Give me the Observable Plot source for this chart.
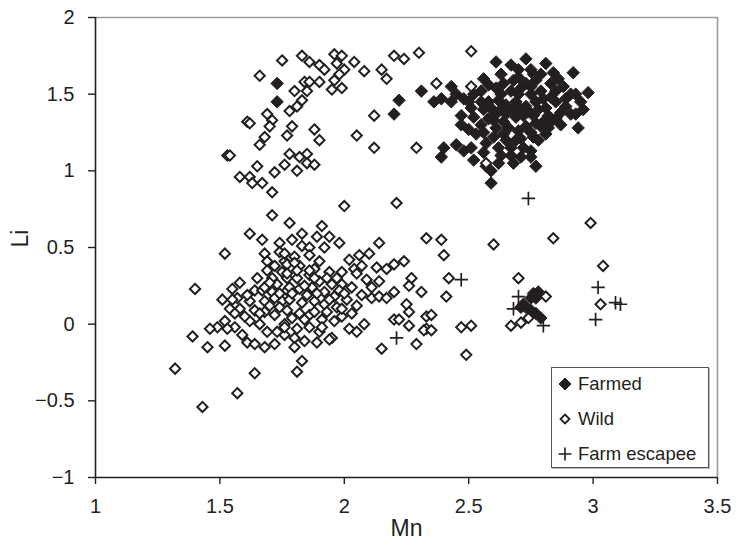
<!DOCTYPE html>
<html><head><meta charset="utf-8">
<script src="https://cdn.jsdelivr.net/npm/d3@7"></script>
<script src="https://cdn.jsdelivr.net/npm/@observablehq/plot@0.6"></script>
<style>
body{margin:0;background:#fff;}
#wrap{position:relative;width:739px;height:550px;font-family:"Liberation Sans",Arial,Helvetica,sans-serif;}
#legend{position:absolute;left:551px;top:367px;width:156px;height:99px;border:1px solid #555;box-shadow:1px 1px 0 #bbb;background:#fff;}
.item{position:absolute;left:6px;height:22px;display:flex;align-items:center;font-size:18.5px;color:#231f20;white-space:nowrap;}
.item svg{margin-right:6px;}
</style></head>
<body><div id="wrap"><div id="legend"></div></div>
<script>
// Tick values
const xTicks = [1, 1.5, 2, 2.5, 3, 3.5];
const yTicks = [-1, -0.5, 0, 0.5, 1, 1.5, 2];

// [Mn, Li] pairs
const farmed = [
[1.73,1.57],[1.73,1.45],[2.22,1.46],[2.20,1.37],[2.31,1.52],
[2.61,1.71],[2.67,1.69],[2.73,1.73],[2.81,1.70],[2.84,1.64],[2.92,1.64],[2.75,1.66],[2.56,1.60],[2.63,1.63],[2.43,1.55],[2.45,1.50],[2.36,1.45],[2.39,1.47],[2.48,1.47],[2.52,1.50],[2.55,1.52],[2.51,1.41],[2.47,1.36],[2.47,1.30],[2.50,1.27],[2.53,1.24],[2.55,1.30],[2.58,1.34],[2.59,1.41],[2.62,1.46],[2.60,1.22],[2.62,1.15],[2.63,1.10],[2.67,1.10],[2.40,1.15],[2.39,1.09],[2.45,1.17],[2.48,1.13],[2.51,1.15],[2.52,1.07],[2.57,1.03],[2.59,1.00],[2.59,0.92],[2.75,1.13],[2.75,1.09],[2.76,1.22],[2.81,1.24],[2.79,1.29],[2.83,1.32],[2.85,1.34],[2.87,1.38],[2.85,1.45],[2.89,1.42],[2.91,1.50],[2.93,1.50],[2.98,1.51],[2.95,1.45],[2.96,1.40],[2.94,1.28],[2.93,1.37],[2.91,1.37],[2.81,1.41],
[2.68,1.59],[2.70,1.61],[2.73,1.57],[2.77,1.59],[2.67,1.52],[2.70,1.50],[2.75,1.50],[2.79,1.52],[2.65,1.43],[2.69,1.45],[2.73,1.42],[2.77,1.45],[2.80,1.47],[2.65,1.37],[2.69,1.35],[2.72,1.36],[2.76,1.36],[2.66,1.28],[2.70,1.26],[2.73,1.29],[2.65,1.20],[2.69,1.20],[2.72,1.15],[2.67,1.15],[2.61,1.54],[2.63,1.50],[2.79,1.63],[2.83,1.57],[2.85,1.52],[2.61,1.37],[2.61,1.28],
[2.58,1.45],[2.56,1.40],[2.63,1.40],[2.60,1.33],[2.64,1.32],[2.68,1.40],[2.71,1.40],[2.74,1.39],[2.78,1.40],[2.82,1.36],[2.80,1.32],[2.77,1.31],[2.75,1.25],[2.71,1.21],[2.78,1.20],[2.82,1.28],[2.87,1.30],[2.89,1.47],[2.83,1.48],[2.71,1.54],[2.75,1.55],[2.64,1.57],[2.58,1.56],[2.55,1.45],[2.52,1.35],[2.56,1.25],[2.57,1.18],[2.64,1.24],[2.68,1.05],[2.71,1.09],[2.77,1.03],[2.76,1.63],[2.70,1.66],[2.86,1.60],[2.88,1.55],[2.50,1.45],[2.43,1.45],[2.56,1.12],[2.62,1.05],
[2.76,0.20],[2.78,0.21],[2.75,0.17],[2.72,0.13],[2.73,0.11],[2.75,0.09],[2.77,0.07],[2.79,0.04],[2.71,0.11],[2.77,0.17]
];

const wild = [
[1.75,1.72],[1.83,1.75],[1.86,1.71],[1.90,1.69],[1.92,1.66],[1.96,1.76],[1.99,1.75],[1.97,1.70],[2.00,1.66],[2.04,1.71],[2.08,1.65],[2.15,1.66],[2.17,1.60],[2.20,1.75],[2.24,1.73],[1.66,1.62],[1.84,1.58],[1.86,1.58],[1.90,1.58],[1.96,1.59],[1.99,1.54],[1.95,1.53],[1.98,1.63],[1.80,1.52],[1.85,1.52],[1.83,1.46],[1.78,1.39],[1.81,1.42],[1.69,1.37],[1.71,1.33],[1.61,1.32],[1.62,1.31],[1.70,1.29],[1.79,1.29],[1.77,1.23],[1.68,1.22],[1.66,1.17],[1.88,1.27],[1.90,1.20],[2.05,1.23],[2.12,1.36],[2.12,1.15],[1.53,1.10],[1.54,1.10],[1.78,1.11],[1.82,1.09],[1.85,1.11],[1.85,1.05],[1.88,1.04],[1.76,1.04],[1.81,1.00],[1.72,0.99],[1.65,1.03],[1.58,0.96],[1.62,0.96],[1.63,0.92],[1.67,0.92],[1.71,0.86],[2.00,0.77],[2.21,0.79],[1.71,0.71],[1.78,0.66],[1.91,0.64],
[2.30,1.77],[2.51,1.78],[2.37,1.57],[2.51,1.55],[2.29,1.15],[2.57,1.05],[2.99,0.66],
[1.62,0.59],[1.67,0.55],[1.52,0.46],[1.40,0.23],[1.39,-0.08],[1.45,-0.15],[1.52,-0.14],[1.32,-0.29],[1.64,-0.32],[1.57,-0.45],[1.43,-0.54],[1.83,-0.24],[1.81,-0.31],[2.15,-0.16],[2.14,0.53],[1.98,0.53],
[1.74,0.53],[1.74,0.47],[1.68,0.46],[1.69,0.41],[1.72,0.38],[1.69,0.35],[1.76,0.41],[1.75,0.34],[1.71,0.30],[1.58,0.27],[1.55,0.23],[1.57,0.17],[1.51,0.16],[1.54,0.10],[1.58,0.10],[1.62,0.15],[1.64,0.22],[1.67,0.22],[1.71,0.21],[1.75,0.15],[1.64,0.09],[1.68,0.08],[1.72,0.06],[1.62,0.02],[1.66,0.00],[1.59,-0.07],[1.56,-0.02],[1.52,0.02],[1.49,-0.02],[1.46,-0.03],[1.53,-0.03],[1.61,-0.12],[1.64,-0.13],[1.68,-0.15],[1.72,-0.13],[1.76,-0.07],[1.77,0.30],[1.77,0.22],[1.76,0.00],
[1.83,0.59],[1.94,0.57],[1.89,0.57],[1.79,0.55],[2.33,0.56],[1.83,0.51],[1.86,0.50],[1.92,0.50],[1.76,0.46],[1.80,0.44],[1.86,0.45],[1.90,0.41],[1.77,0.39],[1.82,0.38],[1.88,0.36],[1.94,0.34],[1.99,0.34],[2.02,0.42],[2.06,0.45],[2.10,0.46],[2.04,0.36],[2.07,0.38],[2.17,0.36],[2.20,0.39],[2.24,0.41],[2.27,0.30],[2.26,0.25],[2.31,0.21],[2.20,0.21],[2.14,0.28],[2.09,0.29],[2.05,0.33],[1.77,0.33],[1.81,0.30],[1.86,0.32],[1.90,0.28],[1.95,0.26],[1.99,0.26],[2.03,0.24],[2.07,0.19],[2.11,0.17],[2.14,0.18],[2.17,0.17],[1.78,0.24],[1.82,0.23],[1.87,0.24],[1.92,0.21],[1.96,0.18],[2.01,0.16],[1.78,0.16],[1.83,0.14],[1.88,0.15],[1.92,0.13],[1.97,0.11],[2.03,0.07],[2.08,0.00],[2.02,-0.03],[2.05,-0.05],[1.77,0.09],[1.82,0.07],[1.86,0.06],[1.91,0.03],[1.96,0.02],[1.76,-0.02],[1.81,-0.03],[1.86,-0.02],[1.90,-0.05],[1.95,-0.09],[1.80,-0.09],[1.84,-0.11],[1.89,-0.12],[1.80,-0.15],[2.20,0.03],[2.22,0.03],[2.26,0.08],[2.26,-0.01],[2.29,-0.13],[2.33,-0.03],[2.33,0.05],
[2.39,0.55],[2.40,0.45],[2.60,0.52],[2.84,0.56],[3.04,0.38],[2.42,0.30],[2.41,0.18],[2.25,0.13],[2.35,0.06],[2.32,-0.04],[2.35,-0.04],[2.47,-0.02],[2.51,-0.01],[2.49,-0.20],[2.70,0.30],[2.81,0.18],[2.67,-0.01],[2.71,0.01],[2.74,0.04],[3.03,0.13],
[1.80,0.40],[1.81,0.35],[1.86,0.35],[1.68,0.24],[1.73,0.26],[1.84,0.25],[1.98,0.22],[1.55,0.16],[1.68,0.15],[1.72,0.17],[1.56,0.07],[1.66,0.07],[1.88,0.08],[1.93,0.08],[1.94,-0.10],
[1.70,0.27],[1.74,0.20],[1.79,0.20],[1.85,0.19],[1.89,0.20],[1.94,0.16],[1.84,0.03],[1.79,0.04],[1.74,0.11],[1.70,0.12],[1.88,0.30],[1.93,0.30],[1.97,0.30],[2.00,0.20],[2.05,0.12],[1.99,0.05],[1.91,-0.02],[1.73,-0.05],[1.69,-0.05],[1.60,0.05],[1.61,0.19],[1.65,0.30],[1.99,0.10],[2.11,0.24],[2.13,0.37]
];

const escapee = [
[2.74,0.82],[2.47,0.29],[2.70,0.18],[2.68,0.10],[2.80,-0.01],[3.02,0.24],[3.09,0.14],[3.11,0.13],[3.01,0.03],[2.21,-0.09]
];

const ink = "#231f20";
const font = '"Liberation Sans", Arial, Helvetica, sans-serif';
const fmt = d3.format("~g");

const chart = Plot.plot({
  width: 739, height: 550,
  marginLeft: 95, marginRight: 22, marginTop: 17, marginBottom: 73,
  x: {domain: [1, 3.5]},
  y: {domain: [-1, 2]},
  style: {fontFamily: font, fontSize: "20px", color: ink, background: "white"},
  marks: [
    Plot.ruleY([2], {stroke: "#9a9a9a", strokeWidth: 1.6}),
    Plot.ruleX([3.5], {stroke: "#9a9a9a", strokeWidth: 1.6}),
    Plot.dot(farmed, {x: d => d[0], y: d => d[1], symbol: "diamond2", r: 5.6, fill: ink, stroke: ink, strokeWidth: 1}),
    Plot.dot(wild, {x: d => d[0], y: d => d[1], symbol: "diamond2", r: 4.6, fill: "white", stroke: ink, strokeWidth: 2}),
    Plot.dot(escapee, {x: d => d[0], y: d => d[1], symbol: "plus", r: 4.4, stroke: ink, strokeWidth: 1.7}),
    Plot.ruleX([1], {stroke: ink, strokeWidth: 1.6}),
    Plot.ruleY([-1], {stroke: ink, strokeWidth: 1.6}),
    Plot.axisX({ticks: xTicks, tickFormat: fmt, tickSize: 7, tickPadding: 14, label: null, fontSize: 20, strokeWidth: 1.4}),
    Plot.axisY({ticks: yTicks, tickFormat: fmt, tickSize: 7, tickPadding: 14, label: null, fontSize: 20, strokeWidth: 1.4}),
    Plot.text(["Mn"], {frameAnchor: "bottom", dy: 58, fontSize: 23, fill: ink}),
    Plot.text(["Li"], {frameAnchor: "left", dx: -75, rotate: -90, fontSize: 23, fill: ink})
  ]
});
document.getElementById("wrap").prepend(chart);

// Legend
const legendItems = [
  {label: "Farmed", kind: "filled"},
  {label: "Wild", kind: "hollow"},
  {label: "Farm escapee", kind: "plus"}
];
const legend = document.getElementById("legend");
legendItems.forEach((it, i) => {
  const div = document.createElement("div");
  div.className = "item";
  div.style.top = (5 + i * 35) + "px";
  let icon;
  if (it.kind === "filled") icon = `<polygon points="7,1 13,7 7,13 1,7" fill="${ink}" stroke="${ink}" stroke-width="1"/>`;
  else if (it.kind === "hollow") icon = `<polygon points="7,2.5 11.5,7 7,11.5 2.5,7" fill="white" stroke="${ink}" stroke-width="1.8"/>`;
  else icon = `<path d="M7,0.5V13.5M0.5,7H13.5" stroke="${ink}" stroke-width="1.6" fill="none"/>`;
  div.innerHTML = `<svg width="14" height="14" viewBox="0 0 14 14">${icon}</svg><span>${it.label}</span>`;
  legend.appendChild(div);
});
</script>
</body></html>
